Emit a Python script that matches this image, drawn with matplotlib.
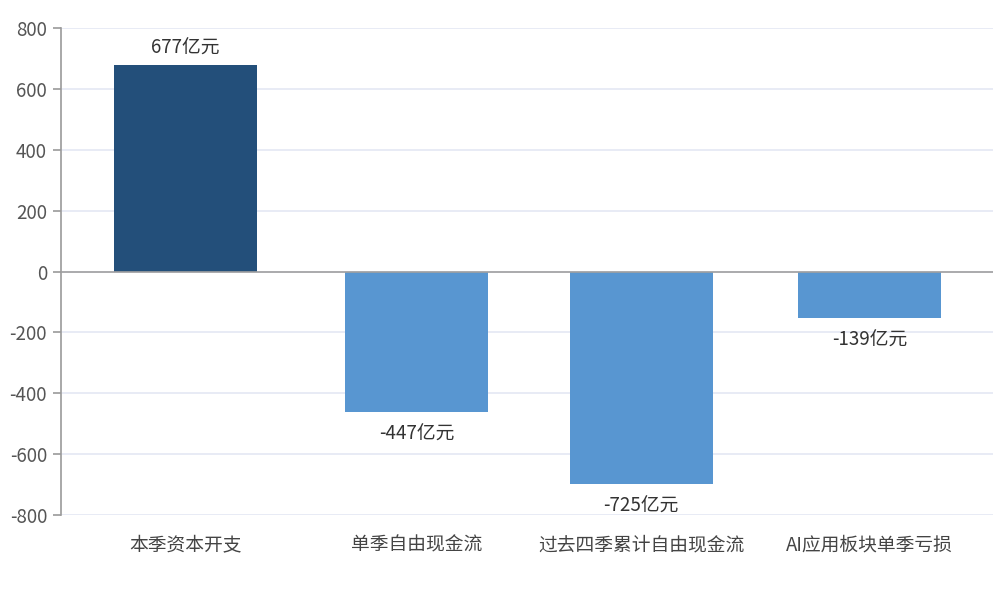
import matplotlib
matplotlib.use("Agg")
import matplotlib.pyplot as plt

plt.rcParams['font.family'] = ['Noto Sans CJK SC', 'DejaVu Sans']
plt.rcParams['axes.unicode_minus'] = False

categories = ['本季资本开支', '单季自由现金流', '过去四季累计自由现金流', 'AI应用板块单季亏损']
bar_heights = [678, -463, -699, -153]
value_labels = ['677亿元', '-447亿元', '-725亿元', '-139亿元']
bar_colors = ['#234f7a', '#5896d1', '#5896d1', '#5896d1']
yticks = [-800, -600, -400, -200, 0, 200, 400, 600, 800]

fig = plt.figure(figsize=(10.08, 6), dpi=100)
ax = fig.add_axes([61 / 1008, 1 - 515 / 600, 932 / 1008, 487 / 600])

x = [0.035, 1.025, 1.99, 2.97]
ax.bar(x, bar_heights, width=0.615, color=bar_colors, zorder=3)

for xi, h, lab in zip(x, bar_heights, value_labels):
    if h >= 0:
        ax.text(xi, h + 57, lab, ha='center', va='center', fontsize=13.5, color='#333333')
    else:
        ax.text(xi, h - 72, lab, ha='center', va='center', fontsize=13.5, color='#333333')

ax.set_xlim(-0.5, 3.5)
ax.set_ylim(-800, 800)
ax.set_yticks(yticks)
ax.set_yticklabels([str(v) for v in yticks])
ax.set_xticks(x)
ax.set_xticklabels(categories)

ax.yaxis.grid(True, color='#e2e5f3', linewidth=1.1, zorder=0)
ax.axhline(0, color='#a0a0a0', linewidth=1.2, zorder=4)

for s in ['top', 'right', 'bottom']:
    ax.spines[s].set_visible(False)
ax.spines['left'].set_color('#9a9a9a')
ax.spines['left'].set_linewidth(1.2)

ax.tick_params(axis='y', colors='#9a9a9a', labelcolor='#555555', labelsize=13.5,
               length=6, width=1.2, pad=4)
ax.tick_params(axis='x', length=0, labelsize=13.5, labelcolor='#444444', pad=14)

fig.savefig('out.png', dpi=100, facecolor='white')
